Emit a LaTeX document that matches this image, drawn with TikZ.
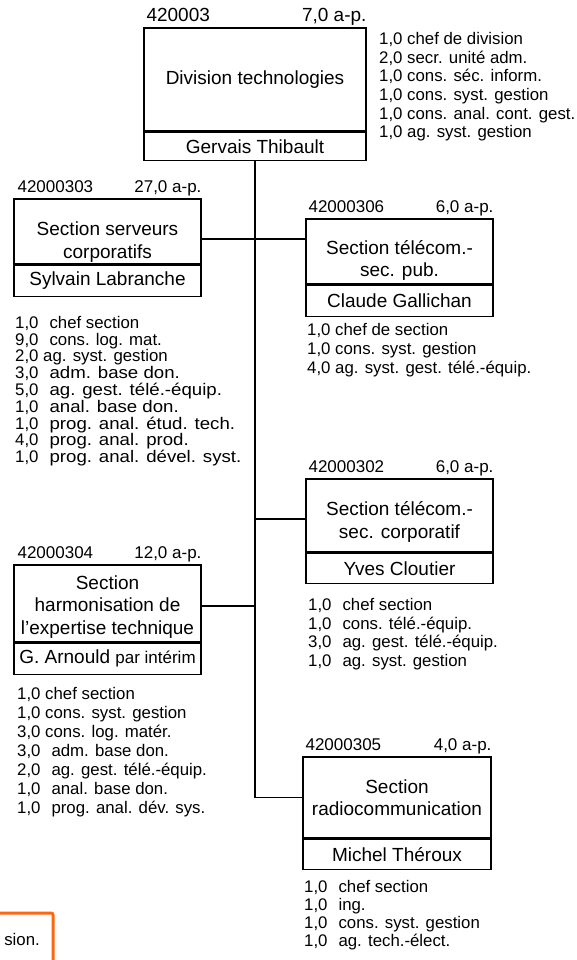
\documentclass[tikz,border=0pt]{standalone}
\usepackage{fontspec}
\setmainfont{Liberation Sans}
\usetikzlibrary{positioning}
\definecolor{mborange}{RGB}{255,102,17}
\newcommand{\lowered}[2]{\raisebox{0pt}[\dimexpr\height+#1\relax]{#2}}
\newcommand{\twosp}{\hspace{11pt}}
\newcommand{\spread}[1]{{\addfontfeature{FakeStretch=1.11}#1}}
\tikzset{box/.style = {draw, line width=1.3pt, minimum width=187pt, inner sep=0pt,
                       align=center, font=\fontsize{19}{22.5}\selectfont},
         namebox/.style = {box, minimum height=31pt, anchor=north},
         code/.style = {anchor=base west, inner sep=0pt, xshift=4pt, yshift=6pt,
                        font=\fontsize{17}{17}\selectfont},
         fte/.style = {anchor=base east, inner sep=0pt, yshift=6pt,
                       font=\fontsize{17}{17}\selectfont},
         staff/.style = {anchor=north west, inner sep=0pt, align=left,
                         font=\fontsize{16.8}{#1}\selectfont},
         link/.style = {line width=1.3pt}}

\begin{document}
\begin{tikzpicture}[x=1pt, y=-1pt]
    \useasboundingbox (0, 0) rectangle (576, 960);

    % division
    \node [box, minimum width=222pt, minimum height=103pt] (div) at (255, 79.5) {Division technologies};
    \node [namebox, minimum width=222pt, minimum height=28pt] (divname) at (div.south) {Gervais Thibault};
    \node [code, xshift=-1pt, yshift=-0.5pt, font=\fontsize{19}{19}\selectfont] (divcode) at (div.north west) {420003};
    \node [fte, yshift=-0.5pt, font=\fontsize{19}{19}\selectfont] (divfte) at (div.north east) {7,0 a-p.};
    \node [staff=18.7] (divstaff) at (379, 32) {1,0 chef de division\\2,0 secr. unité adm.\\1,0 cons. séc. inform.\\1,0 cons. syst. gestion\\1,0 cons. anal. cont. gest.\\1,0 ag. syst. gestion};

    % sections de gauche
    \node [box, minimum height=65pt] (serv) at (107.5, 231.5) {\lowered{21pt}{Section serveurs}\\corporatifs};
    \node [namebox] (servname) at (serv.south) {Sylvain Labranche};
    \node [code] (servcode) at (serv.north west) {42000303};
    \node [fte] (servfte) at (serv.north east) {27,0 a-p.};
    \node [staff=16.8] (servstaff) at (15, 316) {1,0\twosp chef section\\9,0\twosp cons. log. mat.\\2,0 ag. syst. gestion\\3,0\twosp \spread{adm. base don.}\\5,0\twosp \spread{ag. gest. télé.-équip.}\\1,0\twosp \spread{anal. base don.}\\1,0\twosp \spread{prog. anal. étud. tech.}\\4,0\twosp \spread{prog. anal. prod.}\\1,0\twosp \spread{prog. anal. dével. syst.}};

    \node [box, minimum height=77pt] (harm) at (107.5, 603.5) {\lowered{7pt}{Section}\\harmonisation de\\l’expertise technique};
    \node [namebox] (harmname) at (harm.south) {G. Arnould {\fontsize{17}{17}\selectfont par intérim}};
    \node [code] (harmcode) at (harm.north west) {42000304};
    \node [fte] (harmfte) at (harm.north east) {12,0 a-p.};
    \node [staff=19] (harmstaff) at (17, 687) {1,0 chef section\\1,0 cons. syst. gestion\\3,0 cons. log. matér.\\3,0\twosp adm. base don.\\2,0\twosp ag. gest. télé.-équip.\\1,0\twosp anal. base don.\\1,0\twosp prog. anal. dév. sys.};

    % sections de droite
    \node [box, minimum height=65pt] (pub) at (399.5, 251.5) {\lowered{18pt}{Section télécom.-}\\sec. pub.};
    \node [namebox] (pubname) at (pub.south) {Claude Gallichan};
    \node [code, xshift=-1pt] (pubcode) at (pub.north west) {42000306};
    \node [fte] (pubfte) at (pub.north east) {6,0 a-p.};
    \node [staff=19] (pubstaff) at (307, 323) {1,0 chef de section\\1,0 cons. syst. gestion\\4,0 ag. syst. gest. télé.-équip.};

    \node [box, minimum height=73pt] (corp) at (399.5, 515.5) {\lowered{13pt}{Section télécom.-}\\sec. corporatif};
    \node [namebox, minimum height=30pt] (corpname) at (corp.south) {Yves Cloutier};
    \node [code, xshift=-1pt] (corpcode) at (corp.north west) {42000302};
    \node [fte] (corpfte) at (corp.north east) {6,0 a-p.};
    \node [staff=18.7] (corpstaff) at (308, 598) {1,0\twosp chef section\\1,0\twosp cons. télé.-équip.\\3,0\twosp ag. gest. télé.-équip.\\1,0\twosp ag. syst. gestion};

    \node [box, minimum width=188pt, minimum height=81pt] (radio) at (397, 797.5) {Section\\radiocommunication};
    \node [namebox, minimum width=188pt, minimum height=30pt] (radioname) at (radio.south) {Michel Théroux};
    \node [code, xshift=-1pt] (radiocode) at (radio.north west) {42000305};
    \node [fte] (radiofte) at (radio.north east) {4,0 a-p.};
    \node [staff=18] (radiostaff) at (304, 880) {1,0\twosp chef section\\1,0\twosp ing.\\1,0\twosp cons. syst. gestion\\1,0\twosp ag. tech.-élect.};

    % liens
    \draw [link] (divname.south) -- (divname.south |- radio.west) -- (radio.west);
    \draw [link] ([yshift=-7.5pt]serv.east) -- ([yshift=-7.5pt]serv.east -| pub.west);
    \draw [link] (divname.south |- corp.west) ++(0, 3.5) -- ([yshift=-3.5pt]corp.west);
    \draw [link] ([yshift=-2.5pt]harm.east) -- ([yshift=-2.5pt]harm.east -| divname.south);

    % note
    \draw [mborange, line width=3pt, rounded corners=2pt] (-10, 913) rectangle (53, 990);
    \node [anchor=base east, inner sep=0pt, font=\fontsize{16.8}{16.8}\selectfont] (note) at (40, 945) {sion.};
\end{tikzpicture}
\end{document}
